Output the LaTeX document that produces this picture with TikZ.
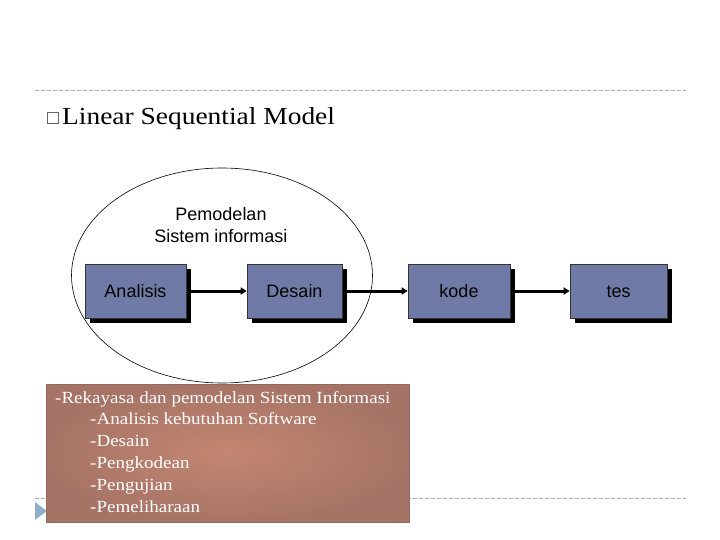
\documentclass[tikz,border=0pt]{standalone}
\usepackage{fontspec}
\setmainfont{Liberation Serif}
\newfontfamily\camfont[FakeStretch=1.12]{Liberation Serif}
\newfontfamily\arialfont{Liberation Sans}
\usetikzlibrary{arrows.meta,shadings}
\definecolor{boxblue}{RGB}{112,122,166}
\definecolor{dashgray}{RGB}{170,175,180}
\definecolor{brownA}{RGB}{196,134,114}
\definecolor{brownB}{RGB}{166,116,102}
\definecolor{triblue}{RGB}{143,176,204}
\begin{document}
\begin{tikzpicture}[x=1pt,y=-1pt,
  stepbox/.style={draw=black!80,line width=0.6pt,fill=boxblue,minimum height=54pt,inner sep=0pt,
    text height=13pt,text depth=0pt,
    font=\arialfont\fontsize{18}{20}\selectfont,
    preaction={fill=black,transform canvas={xshift=5pt,yshift=-5pt}}},
  flow/.style={line width=3pt,-{Triangle[length=6pt,width=7pt]}},
  sep/.style={dashgray,line width=0.7pt,dash pattern=on 4pt off 2pt}]
\useasboundingbox (0,0) rectangle (720,540);
\fill[white] (0,0) rectangle (720,540);
% dashed separators
\draw[sep] (35,90) -- (686,90);
\draw[sep] (35,498) -- (686,498);
% title
\node[draw=gray!80!black,line width=0.8pt,minimum size=11pt,inner sep=0pt] (bul) at (52.5,117.5) {};
\node[anchor=base west,inner sep=0pt,font=\camfont\fontsize{24.5}{28}\selectfont] (title) at (62,125) {Linear Sequential Model};
% ellipse
\draw[line width=0.6pt] (222,275.5) ellipse [x radius=150.5, y radius=107.5];
\node[align=center,font=\arialfont\fontsize{18}{22}\selectfont] (pem) at (221,225) {Pemodelan\\Sistem informasi};
% boxes
\node[stepbox,minimum width=101pt] (ana) at (135.5,291) {Analisis};
\node[stepbox,minimum width=95pt] (des) at (294.5,291) {Desain};
\node[stepbox,minimum width=102pt] (kod) at (459,291) {kode};
\node[stepbox,minimum width=97pt] (tes) at (618.5,291) {tes};
\draw[flow] ([xshift=5pt]ana.east) -- (des.west);
\draw[flow] ([xshift=5pt]des.east) -- (kod.west);
\draw[flow] ([xshift=5pt]kod.east) -- (tes.west);
% triangle
\fill[triblue] (35,502) -- (47,511) -- (35,520) -- cycle;
% brown box
\node[minimum width=363pt,minimum height=138pt,inner sep=0pt,draw=brownB!90!black,line width=0.4pt,
  inner color=brownA,outer color=brownB] (note) at (227.5,453) {};
\node[anchor=north west,inner sep=0pt,text=white,align=left,
  font=\camfont\fontsize{17}{21.8}\selectfont] (notetext) at (55,391)
  {-Rekayasa dan pemodelan Sistem Informasi\\
  \hspace*{35pt}-Analisis kebutuhan Software\\
  \hspace*{35pt}-Desain\\
  \hspace*{35pt}-Pengkodean\\
  \hspace*{35pt}-Pengujian\\
  \hspace*{35pt}-Pemeliharaan};
\end{tikzpicture}
\end{document}
